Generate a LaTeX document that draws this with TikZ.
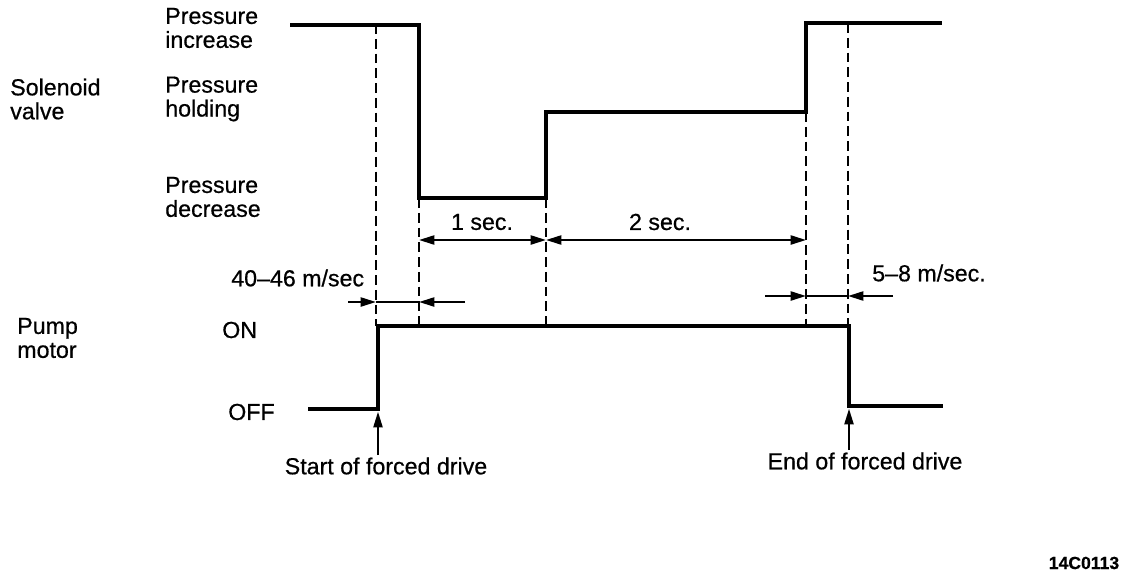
\documentclass[tikz,border=0pt]{standalone}
\usepackage{fontspec}
\setmainfont[FakeBold=0.6]{Liberation Sans}
\usetikzlibrary{arrows.meta,positioning}

\begin{document}
\begin{tikzpicture}[
        x=0.025cm, y=-0.025cm,
        font=\fontsize{16.5}{17}\selectfont,
        % heavy traces for the signals, light dashed guides
        signal/.style={line width=3pt, line join=miter},
        guide/.style={line width=1.6pt, dash pattern=on 7pt off 3.5pt},
        dimline/.style={line width=1.5pt},
        tip/.style={-{Triangle[length=11pt,width=6.5pt]}},
        dimtips/.style={{Triangle[length=11pt,width=6.5pt]}-{Triangle[length=11pt,width=6.5pt]}},
        lbl/.style={align=left, inner sep=0pt, anchor=west},
        txt/.style={inner sep=0pt}
    ]
    \useasboundingbox (0,0) rectangle (1136,580);

    % Solenoid valve trace
    \coordinate (s0) at (290,25);
    \coordinate (s1) at (419,25);
    \coordinate (s2) at (419,198);
    \coordinate (s3) at (546,198);
    \coordinate (s4) at (546,112);
    \coordinate (s5) at (806,112);
    \coordinate (s6) at (806,23);
    \coordinate (s7) at (942,23);
    \draw[signal] (s0) -- (s1) -- (s2) -- (s3) -- (s4) -- (s5) -- (s6) -- (s7);

    % Pump motor trace
    \coordinate (p0) at (308,409);
    \coordinate (p1) at (378,409);
    \coordinate (p2) at (378,326);
    \coordinate (p3) at (849,326);
    \coordinate (p4) at (849,406);
    \coordinate (p5) at (943,406);
    \draw[signal] (p0) -- (p1) -- (p2) -- (p3) -- (p4) -- (p5);

    % Guides
    \coordinate (g1) at (376,24);
    \coordinate (g5) at (848,23);
    \draw[guide] (g1) -- (g1 |- p2);
    \draw[guide] (s2) -- (s2 |- p2);
    \draw[guide] (s3) -- (s3 |- p2);
    \draw[guide] (s5) -- (s5 |- p2);
    \draw[guide] (g5) -- (g5 |- p2);

    % Timing spans
    \coordinate (d1) at (419,240);
    \coordinate (d2) at (546,240);
    \coordinate (d3) at (806,240);
    \draw[dimline, dimtips] (d1) -- (d2);
    \draw[dimline, dimtips] (d2) -- (d3);

    \coordinate (ma) at (348,302);
    \coordinate (mb) at (376,302);
    \coordinate (mc) at (419,302);
    \coordinate (md) at (465,302);
    \draw[dimline] (mb) -- (mc);
    \draw[dimline, tip] (ma) -- (mb);
    \draw[dimline, tip] (md) -- (mc);

    \coordinate (na) at (765,296);
    \coordinate (nb) at (806,296);
    \coordinate (nc) at (848,296);
    \coordinate (nd) at (893,296);
    \draw[dimline] (nb) -- (nc);
    \draw[dimline, tip] (na) -- (nb);
    \draw[dimline, tip] (nd) -- (nc);

    % Labels
    \node[lbl] (sol) at (10,99) {Solenoid\\valve};
    \node[lbl] (inc) at (165,28) {Pressure\\increase};
    \node[lbl] (hold) at (165,99) {Pressure\\holding};
    \node[lbl] (dec) at (165,197) {Pressure\\decrease};
    \node[lbl] (pump) at (17,338) {Pump\\motor};
    \node[lbl] (on) at (222,330) {ON};
    \node[lbl] (off) at (228,412) {OFF};
    \node[txt] (t1) at (482,222) {1 sec.};
    \node[txt] (t2) at (660,222) {2 sec.};
    \node[lbl] (ta) at (231,278) {40–46 m/sec};
    \node[lbl] (tb) at (872,273) {5–8 m/sec.};
    \node[txt] (start) at (386,466) {Start of forced drive};
    \node[txt] (end) at (865,461) {End of forced drive};
    \node[txt, font=\bfseries\fontsize{12.5}{13}\selectfont] (code) at (1084,563) {14C0113};

    % Pointers
    \draw[line width=1.2pt, tip, shorten >=2pt] (start.north -| p1) ++(0,-2) -- (p1);
    \draw[line width=1.2pt, tip, shorten >=2pt] (end.north -| p4) ++(0,-2) -- (p4);
\end{tikzpicture}
\end{document}
